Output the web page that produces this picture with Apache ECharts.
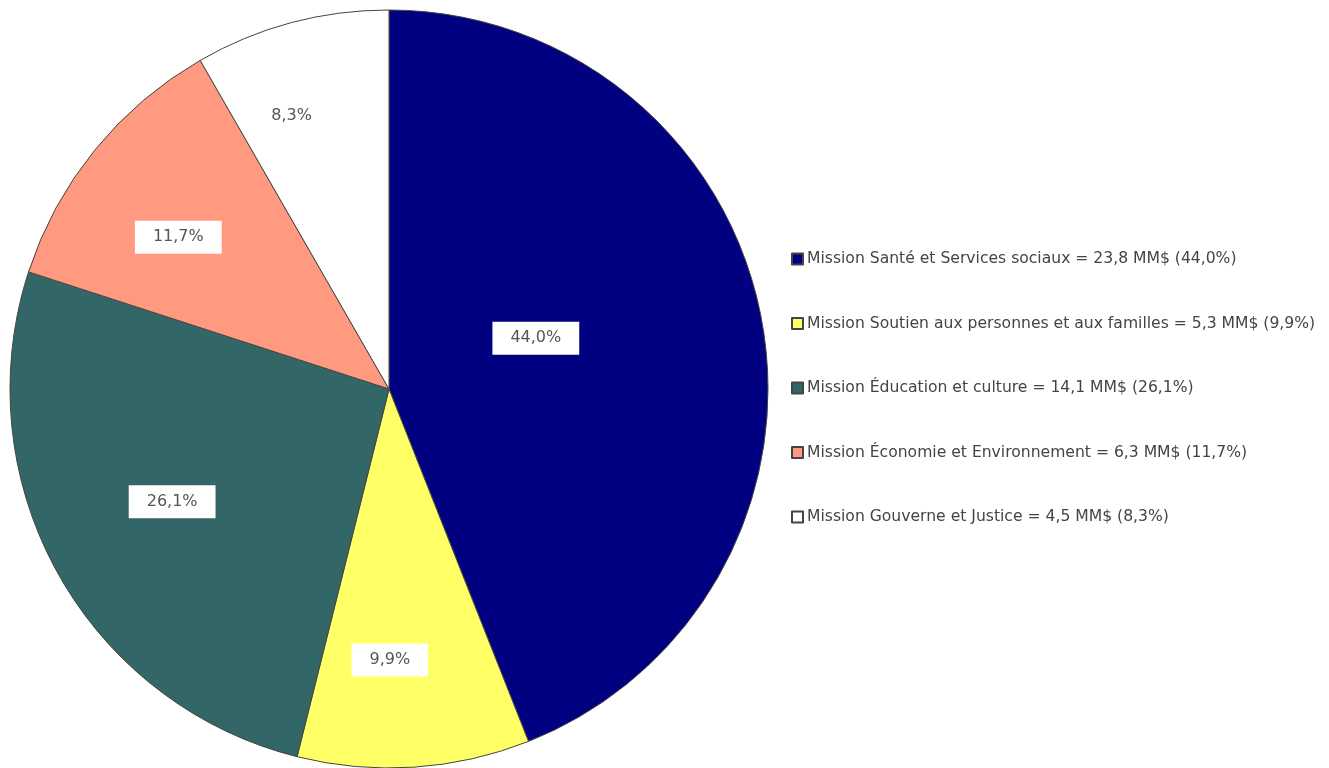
<!DOCTYPE html>
<html>
<head>
<meta charset="utf-8">
<script src="https://cdn.jsdelivr.net/npm/echarts@6/dist/echarts.min.js"></script>
<style>
html,body{margin:0;padding:0;background:#fff;}
#chart{width:1329px;height:768px;}
</style>
</head>
<body>
<div id="chart"></div>
<script>
const missions = [
  'Mission Santé et Services sociaux',
  'Mission Soutien aux personnes et aux familles',
  'Mission Éducation et culture',
  'Mission Économie et Environnement',
  'Mission Gouverne et Justice'
];
const amounts = [23.8, 5.3, 14.1, 6.3, 4.5];
const percents = [44.0, 9.9, 26.1, 11.7, 8.3];
const colors = ['#000080', '#ffff66', '#336666', '#ff9980', '#ffffff'];
// label placement (fraction of radius, angle shift in degrees from slice middle)
const labelRadiusFrac = [0.41, 0.715, 0.645, 0.685, 0.765];
const labelAngleShift = [-8.3, 3.6, 1.5, -3.3, -4.7];

const fmt = v => v.toFixed(1).replace('.', ',');
const cx = 389, cy = 389, R = 379;
const total = percents.reduce((a, b) => a + b, 0);

const chart = echarts.init(document.getElementById('chart'));
chart.setOption({
  animation: false,
  backgroundColor: '#ffffff',
  legend: {
    orient: 'vertical',
    left: 786,
    top: 246,
    itemWidth: 11,
    itemHeight: 11,
    itemGap: 48.5,
    icon: 'rect',
    textStyle: { fontFamily: 'DejaVu Sans', fontSize: 15.6, color: '#444', lineHeight: 16, padding: [0, 0, 0, -1] },
    formatter: name => {
      const i = missions.indexOf(name);
      return name + ' = ' + fmt(amounts[i]) + ' MM$ (' + fmt(percents[i]) + '%)';
    },
    data: missions
  },
  series: [{
    type: 'pie',
    center: [cx, cy],
    radius: R,
    startAngle: 90,
    clockwise: true,
    silent: true,
    itemStyle: { borderColor: '#444', borderWidth: 1 },
    label: {
      show: true,
      position: 'inside',
      formatter: p => fmt(p.value) + '%',
      fontFamily: 'DejaVu Sans',
      fontSize: 16,
      color: '#555',
      backgroundColor: '#ffffff',
      padding: [9, 18, 8, 18]
    },
    labelLine: { show: false },
    labelLayout: params => {
      const i = params.dataIndex;
      let before = 0;
      for (let k = 0; k < i; k++) before += percents[k];
      const mid = (before + percents[i] / 2) / total * 360 + labelAngleShift[i];
      const a = mid * Math.PI / 180;
      const r = R * labelRadiusFrac[i];
      return { x: cx + r * Math.sin(a), y: cy - r * Math.cos(a), align: 'center', verticalAlign: 'middle' };
    },
    data: missions.map((n, i) => ({
      name: n,
      value: percents[i],
      itemStyle: { color: colors[i] }
    }))
  }]
});
</script>
</body>
</html>
